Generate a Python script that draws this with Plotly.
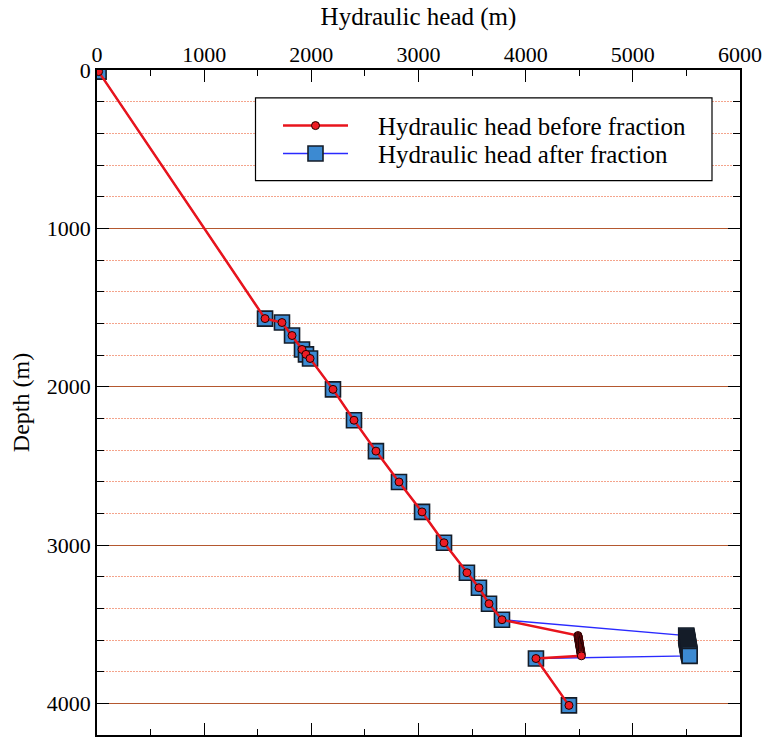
import plotly.graph_objects as go

# Hydraulic head (m) and depth (m), before fracturing
head_before = [15, 1568, 1726, 1820, 1913, 1950, 1988, 2202, 2398, 2603, 2818, 3033,
               3238, 3452, 3564, 3658, 3779,
               4488, 4490, 4491, 4493, 4494, 4496, 4497, 4499, 4500, 4502, 4503, 4505,
               4506, 4508, 4509, 4511, 4512, 4514, 4515, 4517, 4518, 4520,
               4096, 4404]
depth_before = [10, 1570, 1595, 1677, 1765, 1796, 1822, 2017, 2212, 2407, 2602, 2791,
                2986, 3175, 3270, 3371, 3472,
                3572, 3578, 3584, 3590, 3596, 3602, 3608, 3614, 3620, 3626, 3632, 3638,
                3644, 3650, 3656, 3662, 3668, 3674, 3680, 3686, 3692, 3700,
                3717, 4013]

# Hydraulic head (m) and depth (m), after fracturing
head_after = [15, 1568, 1726, 1820, 1913, 1950, 1988, 2202, 2398, 2603, 2818, 3033,
              3238, 3452, 3564, 3658, 3779,
              5498, 5500, 5501, 5503, 5504, 5506, 5507, 5509, 5510, 5512, 5513, 5515,
              5516, 5518, 5519, 5521, 5522, 5524, 5525, 5527, 5528, 5530,
              4096, 4404]
depth_after = [10, 1570, 1595, 1677, 1765, 1796, 1822, 2017, 2212, 2407, 2602, 2791,
               2986, 3175, 3270, 3371, 3472,
               3572, 3578, 3584, 3590, 3596, 3602, 3608, 3614, 3620, 3626, 3632, 3638,
               3644, 3650, 3656, 3662, 3668, 3674, 3680, 3686, 3692, 3700,
               3717, 4013]

x_ticks = [0, 1000, 2000, 3000, 4000, 5000, 6000]
y_ticks = [0, 1000, 2000, 3000, 4000]

FONT = "Liberation Serif, Times New Roman, serif"
PAD = "\u00a0\u00a0\u00a0\u00a0"

W, H = 764, 738
ML, MR, MT, MB = 97, 24, 70, 1
PW, PH = W - ML - MR, H - MT - MB


def px(x):
    return (x - ML) / PW


def py(y):
    return 1 - (y - MT) / PH


fig = go.Figure()
fig.add_trace(go.Scatter(
    x=head_after, y=depth_after, mode="lines+markers",
    name=PAD + "Hydraulic head after fraction", legend="legend2",
    line=dict(color="#2a2aff", width=1.4),
    marker=dict(symbol="square", size=15, color="#3c8ad2",
                line=dict(color="#141c28", width=1.6)),
))
fig.add_trace(go.Scatter(
    x=head_before, y=depth_before, mode="lines+markers",
    name=PAD + "Hydraulic head before fraction", legend="legend",
    line=dict(color="#e8141c", width=2.5),
    marker=dict(symbol="circle", size=8, color="#ee1c24",
                line=dict(color="#200000", width=1)),
))

# legend frame
fig.add_shape(type="rect", xref="paper", yref="paper",
              x0=px(255.5), x1=px(712), y0=py(181), y1=py(98),
              fillcolor="white", line=dict(color="black", width=1.2), layer="above")

leg_common = dict(
    xanchor="left", yanchor="middle",
    bgcolor="rgba(0,0,0,0)", borderwidth=0,
    font=dict(family=FONT, size=25, color="black"),
    itemwidth=65,
)

fig.update_layout(
    width=W, height=H,
    margin=dict(l=ML, r=MR, t=MT, b=MB),
    paper_bgcolor="white", plot_bgcolor="white",
    font=dict(family=FONT, size=22, color="black"),
    showlegend=True,
    legend=dict(x=px(278), y=py(126), **leg_common),
    legend2=dict(x=px(278), y=py(154), **leg_common),
    xaxis=dict(
        side="top", range=[0, 6000], tickvals=x_ticks,
        title=dict(text="Hydraulic head (m)", font=dict(family=FONT, size=25), standoff=10),
        showgrid=False, zeroline=False,
        showline=True, linecolor="black", linewidth=1.5, mirror="ticks",
        ticks="inside", ticklen=12, tickwidth=1.3, tickcolor="black",
        ticklabelstandoff=-3,
        minor=dict(dtick=500, ticks="inside", ticklen=6, tickwidth=1.3,
                   tickcolor="black", showgrid=False),
    ),
    yaxis=dict(
        range=[4200, 0], tickvals=y_ticks,
        title=dict(text="Depth (m)", font=dict(family=FONT, size=24), standoff=10),
        showgrid=True, gridcolor="#b4582f", gridwidth=1.2,
        zeroline=False,
        showline=True, linecolor="black", linewidth=1.5, mirror="ticks",
        ticks="inside", ticklen=12, tickwidth=1.3, tickcolor="black",
        minor=dict(dtick=200, ticks="inside", ticklen=7, tickwidth=1.3,
                   tickcolor="black", showgrid=True, gridcolor="#f4a48c",
                   griddash="2px,1px", gridwidth=1.2),
    ),
)

fig.write_html("out.html")
